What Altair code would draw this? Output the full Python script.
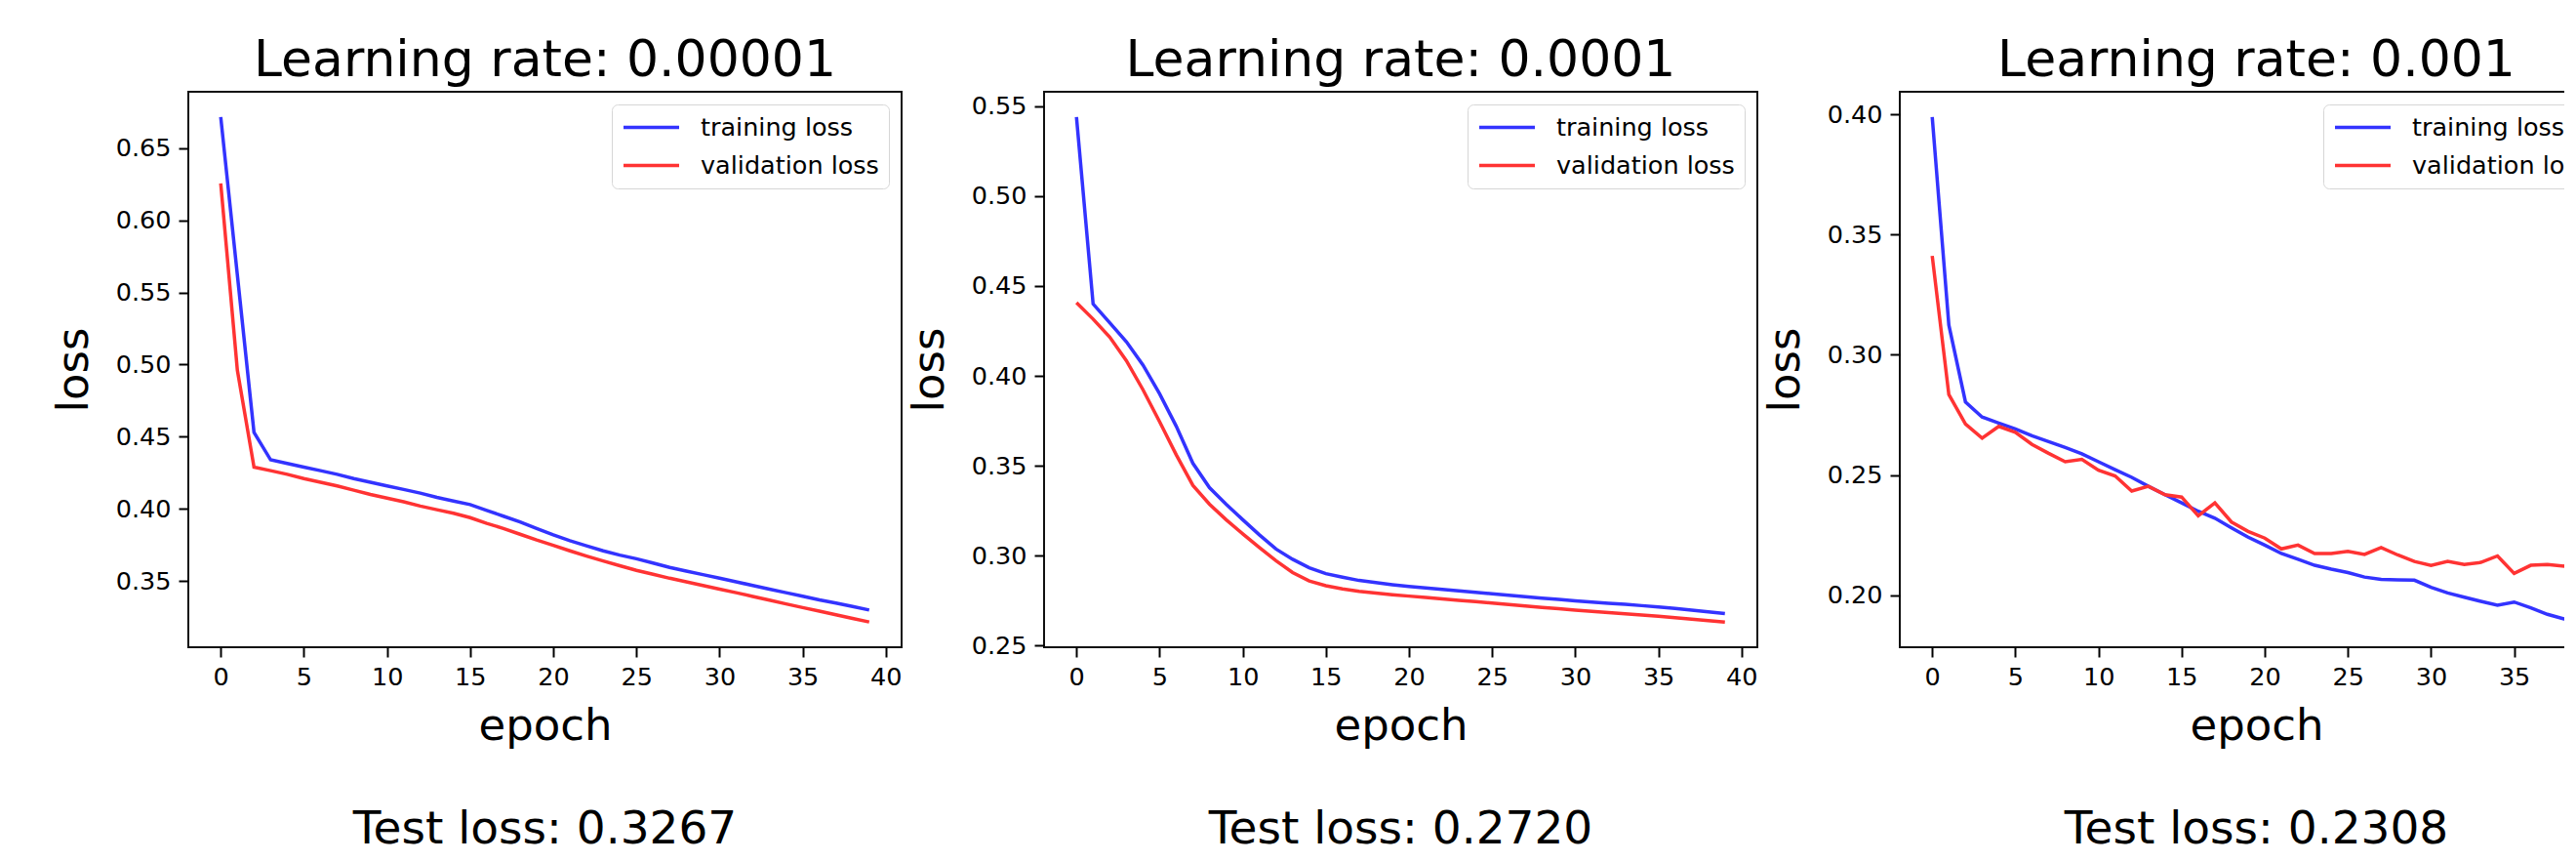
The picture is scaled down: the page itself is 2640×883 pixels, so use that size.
import altair as alt
import pandas as pd

FONT = "DejaVu Sans"

epochs = list(range(40))
series_names = ["training loss", "validation loss"]
series_colors = ["#3333ff", "#ff3333"]
lr_titles = ["Learning rate: 0.00001", "Learning rate: 0.0001", "Learning rate: 0.001"]
test_losses = ["Test loss: 0.3267", "Test loss: 0.2720", "Test loss: 0.2308"]
x_ticks = [0, 5, 10, 15, 20, 25, 30, 35, 40]
y_ticks_1 = [0.35, 0.40, 0.45, 0.50, 0.55, 0.60, 0.65]
y_ticks_2 = [0.25, 0.30, 0.35, 0.40, 0.45, 0.50, 0.55]
y_ticks_3 = [0.20, 0.25, 0.30, 0.35, 0.40]

train_1 = [0.6715, 0.562, 0.453, 0.434, 0.4315, 0.429, 0.4265, 0.424, 0.421, 0.4185,
           0.416, 0.4135, 0.411, 0.408, 0.4055, 0.403, 0.399, 0.395, 0.391, 0.3865,
           0.382, 0.378, 0.3745, 0.371, 0.368, 0.3655, 0.3625, 0.3595, 0.357, 0.3545,
           0.352, 0.3495, 0.347, 0.3445, 0.342, 0.3395, 0.337, 0.3348, 0.3324, 0.330]
val_1 = [0.6255, 0.496, 0.429, 0.4265, 0.424, 0.421, 0.4185, 0.416, 0.413, 0.410,
         0.4075, 0.405, 0.402, 0.3995, 0.397, 0.394, 0.390, 0.3865, 0.3825, 0.3785,
         0.3748, 0.371, 0.3674, 0.364, 0.3607, 0.3575, 0.3548, 0.352, 0.3495, 0.347,
         0.3445, 0.342, 0.3394, 0.3368, 0.3342, 0.3317, 0.3292, 0.3267, 0.3242, 0.3217]

train_2 = [0.544, 0.440, 0.4295, 0.419, 0.406, 0.390, 0.372, 0.3514, 0.3378, 0.3286,
           0.320, 0.3116, 0.3037, 0.298, 0.2933, 0.290, 0.288, 0.2862, 0.2850, 0.2838,
           0.2828, 0.2820, 0.2812, 0.2804, 0.2796, 0.2788, 0.2780, 0.2772, 0.2764, 0.2757,
           0.2749, 0.2742, 0.2735, 0.2729, 0.2722, 0.2715, 0.2706, 0.2697, 0.2688, 0.2678]
val_2 = [0.4407, 0.4316, 0.4216, 0.4085, 0.3923, 0.3745, 0.3561, 0.3391, 0.3286, 0.320,
         0.3121, 0.3045, 0.2972, 0.2906, 0.2859, 0.2833, 0.2815, 0.2802, 0.2792, 0.2783,
         0.2775, 0.2767, 0.2759, 0.2751, 0.2744, 0.2736, 0.2728, 0.2720, 0.2712, 0.2705,
         0.2697, 0.2690, 0.2683, 0.2676, 0.2670, 0.2663, 0.2655, 0.2647, 0.2639, 0.2631]

train_3 = [0.399, 0.3124, 0.2804, 0.2741, 0.2716, 0.2692, 0.2663, 0.2639, 0.2614, 0.2588,
           0.2555, 0.2522, 0.249, 0.2453, 0.2418, 0.2384, 0.2349, 0.232, 0.228, 0.2241,
           0.2208, 0.2173, 0.2149, 0.2124, 0.2108, 0.2094, 0.2075, 0.2065, 0.2063, 0.2062,
           0.2032, 0.2009, 0.1991, 0.1974, 0.1958, 0.1971, 0.1947, 0.192, 0.1901, 0.1888]
val_3 = [0.3412, 0.2835, 0.2712, 0.2653, 0.2702, 0.2678, 0.2627, 0.259, 0.2555, 0.2565,
         0.252, 0.2496, 0.2433, 0.2453, 0.2418, 0.2408, 0.233, 0.2384, 0.2304, 0.2265,
         0.2237, 0.2192, 0.2208, 0.2173, 0.2173, 0.2182, 0.2169, 0.2198, 0.2167, 0.2140,
         0.2123, 0.214, 0.2127, 0.2136, 0.2163, 0.209, 0.2124, 0.2127, 0.212, 0.217]

trains = [train_1, train_2, train_3]
vals = [val_1, val_2, val_3]
y_ticks = [y_ticks_1, y_ticks_2, y_ticks_3]

W, H = 731, 569


def panel(i):
    tr, va = trains[i], vals[i]
    df = pd.DataFrame({
        "epoch": epochs + epochs,
        "loss": tr + va,
        "series": [series_names[0]] * len(tr) + [series_names[1]] * len(va),
    })
    lo, hi = min(tr + va), max(tr + va)
    m = 0.05 * (hi - lo)
    lines = alt.Chart(df).mark_line(strokeWidth=3.5, clip=True).encode(
        x=alt.X("epoch:Q",
                scale=alt.Scale(domain=[-1.95, 40.95], nice=False, zero=False),
                axis=alt.Axis(values=x_ticks, format="d", title="epoch")),
        y=alt.Y("loss:Q",
                scale=alt.Scale(domain=[lo - m, hi + m], nice=False, zero=False),
                axis=alt.Axis(values=y_ticks[i], format=".2f", title="loss")),
        color=alt.Color("series:N",
                        scale=alt.Scale(domain=series_names, range=series_colors),
                        legend=alt.Legend(title=None, orient="top-right", offset=13,
                                          symbolType="stroke", symbolSize=3249,
                                          symbolStrokeWidth=3.5, labelOffset=20,
                                          labelFontSize=25.5, labelFont=FONT,
                                          labelColor="black", labelLimit=400,
                                          clipHeight=27, rowPadding=12,
                                          padding=10, strokeColor="#d6d6d6",
                                          fillColor="white", cornerRadius=6)),
    )
    txt = alt.Chart(pd.DataFrame({"t": [test_losses[i]]})).mark_text(
        font=FONT, fontSize=47, align="center", baseline="alphabetic", color="black"
    ).encode(x=alt.value(W / 2), y=alt.value(770), text="t:N")
    return alt.layer(lines, txt).properties(
        width=W, height=H,
        title=alt.TitleParams(lr_titles[i], font=FONT, fontSize=52, fontWeight="normal",
                              anchor="middle", offset=16, baseline="alphabetic",
                              frame="group", dy=52, color="black"),
    )


chart = alt.hconcat(panel(0), panel(1), panel(2), spacing=146, bounds="flush").resolve_scale(
    color="independent"
).properties(
    autosize=alt.AutoSizeParams(type="none"),
    padding={"left": 185, "top": 86, "right": 2435, "bottom": 776},
).configure_view(
    stroke="#111111", strokeWidth=2
).configure_axis(
    labelFont=FONT, labelFontSize=25.5, labelColor="black", labelPadding=8,
    titleFont=FONT, titleFontSize=45, titleFontWeight="normal", titleColor="black",
    tickColor="black", tickWidth=2, tickSize=10, domain=False, grid=False,
).configure_axisY(
    titlePadding=20
).configure_axisX(
    titlePadding=15
)

chart.save("out.html", embed_options={"renderer": "svg", "actions": False})
